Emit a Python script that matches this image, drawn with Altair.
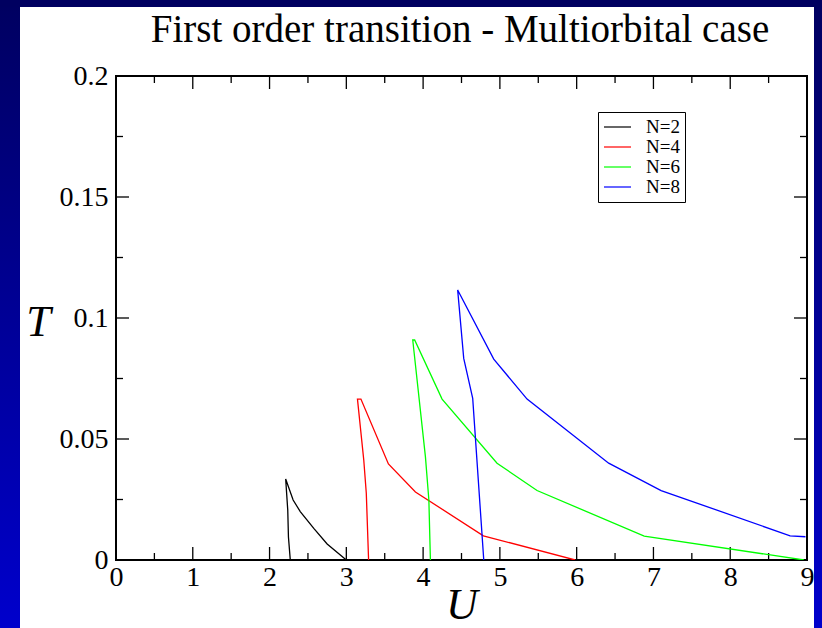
import altair as alt
import pandas as pd

# ---------------- data ----------------
series_names = ["N=2", "N=4", "N=6", "N=8"]
series_colors = ["#000000", "#ff0000", "#00ff00", "#0000ff"]

n2_u = [2.27, 2.246, 2.237, 2.21, 2.307, 2.40, 2.576, 2.75, 3.00]
n2_t = [0.0, 0.0095, 0.0207, 0.0335, 0.0248, 0.0200, 0.0131, 0.0066, 0.0]
n4_u = [3.29, 3.26, 3.227, 3.145, 3.19, 3.548, 3.90, 4.785, 5.98]
n4_t = [0.0, 0.0276, 0.0413, 0.0665, 0.0665, 0.0397, 0.0281, 0.0100, 0.0]
n6_u = [4.095, 4.075, 4.03, 3.865, 3.89, 4.247, 4.963, 5.484, 6.88, 8.96]
n6_t = [0.0, 0.0248, 0.0427, 0.0909, 0.0909, 0.0665, 0.0400, 0.0287, 0.0099, 0.0]
n8_u = [4.79, 4.646, 4.529, 4.45, 4.92, 5.354, 6.417, 7.10, 8.78, 8.98]
n8_t = [0.0, 0.0668, 0.0833, 0.1116, 0.0830, 0.0665, 0.0400, 0.0287, 0.0100, 0.0096]

x_major = [0, 1, 2, 3, 4, 5, 6, 7, 8, 9]
x_minor = [0.5, 1.5, 2.5, 3.5, 4.5, 5.5, 6.5, 7.5, 8.5]
y_major = [0, 0.05, 0.1, 0.15, 0.2]
y_minor = [0.025, 0.075, 0.125, 0.175]

title_text = "First order transition - Multiorbital case"

# ---------------- build table ----------------
rows = []
for name, us, ts in zip(series_names, [n2_u, n4_u, n6_u, n8_u], [n2_t, n4_t, n6_t, n8_t]):
    for i, (u, t) in enumerate(zip(us, ts)):
        rows.append({"U": u, "T": t, "N": name, "idx": i})
df = pd.DataFrame(rows)

W, H = 691, 484
PAD_L, PAD_T = 116, 76
SERIF = "Liberation Serif"

xscale = alt.Scale(domain=[0, 9], nice=False, zero=False)
yscale = alt.Scale(domain=[0, 0.2], nice=False, zero=False)

x_axis = alt.Axis(values=x_major, ticks=False, domain=False, grid=False,
                  labelFont=SERIF, labelFontSize=28, labelColor="black",
                  labelPadding=3, labelOverlap=False, labelFlush=False,
                  title="U", titleFont=SERIF, titleFontSize=44,
                  titleFontStyle="italic", titleFontWeight="normal",
                  titleColor="black", titleY=67, titleBaseline="bottom")
y_axis = alt.Axis(values=y_major, ticks=False, domain=False, grid=False,
                  labelExpr="format(datum.value, '~g')",
                  labelFont=SERIF, labelFontSize=28, labelColor="black",
                  labelPadding=8, labelOverlap=False, labelFlush=False,
                  labelBaseline="middle",
                  title="T", titleFont=SERIF, titleFontSize=44,
                  titleFontStyle="italic", titleFontWeight="normal",
                  titleColor="black", titleAngle=0, titleAlign="center",
                  titleBaseline="alphabetic", titleX=-78, titleY=259)

lines = alt.Chart(df).mark_line(strokeWidth=1.3, clip=True).encode(
    x=alt.X("U:Q", scale=xscale, axis=x_axis, title="U"),
    y=alt.Y("T:Q", scale=yscale, axis=y_axis, title="T"),
    color=alt.Color("N:N", scale=alt.Scale(domain=series_names, range=series_colors),
                    legend=alt.Legend(orient="none", legendX=482, legendY=36,
                                      title=None, padding=5, strokeColor="black",
                                      fillColor="white", cornerRadius=0,
                                      symbolType="stroke", symbolSize=729,
                                      symbolStrokeWidth=1.2, clipHeight=20,
                                      rowPadding=0, labelOffset=14,
                                      labelFont=SERIF, labelFontSize=19,
                                      labelColor="black")),
    order="idx:Q",
)

def tick_layer(vals, channel, a, b):
    d = pd.DataFrame({"v": vals})
    if channel == "x":
        return alt.Chart(d).mark_rule(color="black", strokeWidth=1.3).encode(
            x=alt.X("v:Q", scale=xscale, axis=x_axis, title="U"),
            y=alt.value(a), y2=alt.value(b))
    return alt.Chart(d).mark_rule(color="black", strokeWidth=1.3).encode(
        y=alt.Y("v:Q", scale=yscale, axis=y_axis, title="T"),
        x=alt.value(a), x2=alt.value(b))

ticks = [
    tick_layer(x_major, "x", H, H - 13),
    tick_layer(x_minor, "x", H, H - 7),
    tick_layer(x_major, "x", 0, 13),
    tick_layer(x_minor, "x", 0, 7),
    tick_layer(y_major, "y", 0, 13),
    tick_layer(y_minor, "y", 0, 7),
    tick_layer(y_major, "y", W, W - 13),
    tick_layer(y_minor, "y", W, W - 7),
]

one = pd.DataFrame({"k": [0]})
grad = alt.Gradient(gradient="linear",
                    stops=[alt.GradientStop(color="#000060", offset=0),
                           alt.GradientStop(color="#0000cc", offset=1)],
                    x1=0, x2=0, y1=0, y2=1)
left_strip = alt.Chart(one).mark_rect(fill=grad, strokeWidth=0).encode(
    x=alt.value(-PAD_L), x2=alt.value(-PAD_L + 20),
    y=alt.value(-PAD_T), y2=alt.value(628 - PAD_T))
right_strip = alt.Chart(one).mark_rect(fill=grad, strokeWidth=0).encode(
    x=alt.value(814 - PAD_L), x2=alt.value(822 - PAD_L),
    y=alt.value(-PAD_T), y2=alt.value(628 - PAD_T))
top_strip = alt.Chart(one).mark_rect(fill="#000060", strokeWidth=0).encode(
    x=alt.value(-PAD_L), x2=alt.value(822 - PAD_L),
    y=alt.value(-PAD_T), y2=alt.value(-PAD_T + 7))

title_mark = alt.Chart(one).mark_text(font=SERIF, fontSize=39, color="black",
                                      align="center", baseline="alphabetic").encode(
    x=alt.value(344), y=alt.value(-34), text=alt.value(title_text))

chart = alt.layer(*ticks, lines, left_strip, right_strip, top_strip, title_mark).properties(
    width=W, height=H,
    autosize=alt.AutoSizeParams(type="none"),
    padding={"left": PAD_L, "top": PAD_T, "right": 822 - PAD_L - W, "bottom": 628 - PAD_T - H},
    background="white",
).configure_view(stroke="black", strokeWidth=2)

chart.save("out.html", embed_options={"renderer": "svg", "actions": False})
